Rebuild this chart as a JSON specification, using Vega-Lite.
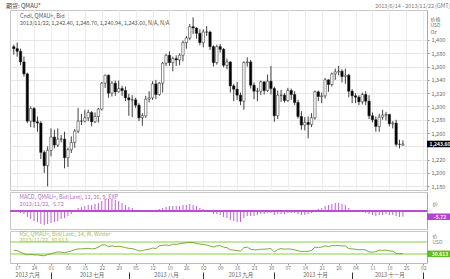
{
"$schema":"https://vega.github.io/schema/vega-lite/v6.json",
"padding":{"left":5,"top":2,"right":0,"bottom":0},
"background":"white",
"spacing":0,
"title":{"text":"期货: QMAU*","anchor":"start","fontSize":6,"fontWeight":"normal","color":"#444","baseline":"top","offset":-6.5,"dx":-3},
"config":{"font":"Noto Sans CJK SC","view":{"stroke":"#c8c8c8"},"axis":{"labelFont":"Noto Sans CJK SC","titleFont":"Noto Sans CJK SC","labelOverlap":false,"labelSeparation":0},"axisQuantitative":{"labelOverlap":false},"axisRight":{"labelOverlap":false}},
"datasets":{"g":[
{"d":"2013-06-14","o":1390,"h":1393,"l":1378,"c":1387,"m":-1,"r":43},
{"d":"2013-06-17","o":1387,"h":1396,"l":1375,"c":1383,"m":-1,"r":41},
{"d":"2013-06-18","o":1383,"h":1387,"l":1362,"c":1367,"m":-2,"r":36},
{"d":"2013-06-19","o":1367,"h":1375,"l":1345,"c":1349,"m":-3,"r":31},
{"d":"2013-06-20","o":1349,"h":1351,"l":1275,"c":1278,"m":-6,"r":27},
{"d":"2013-06-21","o":1278,"h":1300,"l":1269,"c":1297,"m":-8,"r":29},
{"d":"2013-06-24","o":1297,"h":1299,"l":1268,"c":1277,"m":-10,"r":27},
{"d":"2013-06-25","o":1277,"h":1285,"l":1262,"c":1275,"m":-11,"r":27},
{"d":"2013-06-26","o":1275,"h":1278,"l":1221,"c":1231,"m":-13,"r":25},
{"d":"2013-06-27","o":1231,"h":1234,"l":1200,"c":1211,"m":-14,"r":24},
{"d":"2013-06-28","o":1211,"h":1240,"l":1180,"c":1234,"m":-13,"r":28},
{"d":"2013-07-01","o":1234,"h":1267,"l":1225,"c":1254,"m":-12,"r":31},
{"d":"2013-07-02","o":1254,"h":1265,"l":1237,"c":1242,"m":-11,"r":34},
{"d":"2013-07-03","o":1242,"h":1267,"l":1239,"c":1251,"m":-10,"r":37},
{"d":"2013-07-04","o":1251,"h":1257,"l":1246,"c":1251,"m":-8,"r":36},
{"d":"2013-07-05","o":1251,"h":1262,"l":1207,"c":1223,"m":-7,"r":34},
{"d":"2013-07-08","o":1223,"h":1238,"l":1209,"c":1235,"m":-5,"r":37},
{"d":"2013-07-09","o":1235,"h":1255,"l":1230,"c":1246,"m":-3,"r":40},
{"d":"2013-07-10","o":1246,"h":1266,"l":1238,"c":1263,"m":1,"r":44},
{"d":"2013-07-11","o":1263,"h":1298,"l":1260,"c":1278,"m":3,"r":47},
{"d":"2013-07-12","o":1278,"h":1289,"l":1272,"c":1278,"m":4,"r":47},
{"d":"2013-07-15","o":1278,"h":1295,"l":1276,"c":1283,"m":5,"r":48},
{"d":"2013-07-16","o":1283,"h":1295,"l":1278,"c":1291,"m":6,"r":49},
{"d":"2013-07-17","o":1291,"h":1293,"l":1270,"c":1277,"m":6,"r":47},
{"d":"2013-07-18","o":1277,"h":1291,"l":1275,"c":1285,"m":7,"r":48},
{"d":"2013-07-19","o":1285,"h":1298,"l":1276,"c":1296,"m":8,"r":53},
{"d":"2013-07-22","o":1296,"h":1337,"l":1294,"c":1335,"m":10,"r":60},
{"d":"2013-07-23","o":1335,"h":1348,"l":1328,"c":1347,"m":12,"r":61},
{"d":"2013-07-24","o":1347,"h":1348,"l":1313,"c":1320,"m":12,"r":54},
{"d":"2013-07-25","o":1320,"h":1338,"l":1315,"c":1335,"m":12,"r":57},
{"d":"2013-07-26","o":1335,"h":1339,"l":1316,"c":1322,"m":11,"r":55},
{"d":"2013-07-29","o":1322,"h":1339,"l":1321,"c":1327,"m":10,"r":56},
{"d":"2013-07-30","o":1327,"h":1331,"l":1316,"c":1324,"m":8,"r":54},
{"d":"2013-07-31","o":1324,"h":1330,"l":1308,"c":1313,"m":6,"r":51},
{"d":"2013-08-01","o":1313,"h":1319,"l":1286,"c":1310,"m":4,"r":49},
{"d":"2013-08-02","o":1310,"h":1317,"l":1284,"c":1310,"m":3,"r":48},
{"d":"2013-08-05","o":1310,"h":1313,"l":1298,"c":1302,"m":1,"r":45},
{"d":"2013-08-06","o":1302,"h":1305,"l":1278,"c":1283,"m":-1,"r":40},
{"d":"2013-08-07","o":1283,"h":1290,"l":1271,"c":1286,"m":-1,"r":41},
{"d":"2013-08-08","o":1286,"h":1316,"l":1283,"c":1311,"m":0.3,"r":45},
{"d":"2013-08-09","o":1311,"h":1323,"l":1306,"c":1313,"m":0.3,"r":46},
{"d":"2013-08-12","o":1313,"h":1338,"l":1310,"c":1334,"m":1,"r":50},
{"d":"2013-08-13","o":1334,"h":1340,"l":1311,"c":1318,"m":1,"r":48},
{"d":"2013-08-14","o":1318,"h":1337,"l":1316,"c":1335,"m":2,"r":57},
{"d":"2013-08-15","o":1335,"h":1367,"l":1321,"c":1365,"m":3,"r":59},
{"d":"2013-08-16","o":1365,"h":1379,"l":1361,"c":1377,"m":4,"r":60},
{"d":"2013-08-19","o":1377,"h":1383,"l":1361,"c":1366,"m":5,"r":58},
{"d":"2013-08-20","o":1366,"h":1375,"l":1353,"c":1372,"m":5,"r":63},
{"d":"2013-08-21","o":1372,"h":1377,"l":1361,"c":1370,"m":5,"r":62},
{"d":"2013-08-22","o":1370,"h":1380,"l":1362,"c":1377,"m":5,"r":64},
{"d":"2013-08-23","o":1377,"h":1399,"l":1368,"c":1396,"m":6,"r":66},
{"d":"2013-08-26","o":1396,"h":1406,"l":1387,"c":1403,"m":6,"r":67},
{"d":"2013-08-27","o":1403,"h":1424,"l":1400,"c":1420,"m":7,"r":69},
{"d":"2013-08-28","o":1420,"h":1434,"l":1409,"c":1418,"m":6,"r":68},
{"d":"2013-08-29","o":1418,"h":1419,"l":1402,"c":1410,"m":5,"r":65},
{"d":"2013-08-30","o":1410,"h":1416,"l":1392,"c":1396,"m":3,"r":63},
{"d":"2013-09-02","o":1396,"h":1416,"l":1389,"c":1412,"m":2,"r":62},
{"d":"2013-09-03","o":1412,"h":1421,"l":1406,"c":1412,"m":1,"r":60},
{"d":"2013-09-04","o":1412,"h":1414,"l":1385,"c":1390,"m":-1,"r":57},
{"d":"2013-09-05","o":1390,"h":1392,"l":1360,"c":1366,"m":-3,"r":53},
{"d":"2013-09-06","o":1366,"h":1393,"l":1363,"c":1390,"m":-3,"r":57},
{"d":"2013-09-09","o":1390,"h":1394,"l":1381,"c":1386,"m":-4,"r":58},
{"d":"2013-09-10","o":1386,"h":1388,"l":1359,"c":1362,"m":-6,"r":53},
{"d":"2013-09-11","o":1362,"h":1372,"l":1356,"c":1367,"m":-7,"r":51},
{"d":"2013-09-12","o":1367,"h":1368,"l":1321,"c":1331,"m":-9,"r":44},
{"d":"2013-09-13","o":1331,"h":1334,"l":1308,"c":1326,"m":-10,"r":43},
{"d":"2013-09-16","o":1326,"h":1337,"l":1310,"c":1317,"m":-11,"r":41},
{"d":"2013-09-17","o":1317,"h":1321,"l":1302,"c":1308,"m":-11,"r":40},
{"d":"2013-09-18","o":1308,"h":1368,"l":1295,"c":1366,"m":-7,"r":51},
{"d":"2013-09-19","o":1366,"h":1374,"l":1360,"c":1367,"m":-5,"r":53},
{"d":"2013-09-20","o":1367,"h":1370,"l":1327,"c":1332,"m":-5,"r":46},
{"d":"2013-09-23","o":1332,"h":1336,"l":1311,"c":1323,"m":-5,"r":44},
{"d":"2013-09-24","o":1323,"h":1328,"l":1308,"c":1323,"m":-4,"r":44},
{"d":"2013-09-25","o":1323,"h":1339,"l":1317,"c":1337,"m":-3,"r":46},
{"d":"2013-09-26","o":1337,"h":1338,"l":1318,"c":1324,"m":-3,"r":46},
{"d":"2013-09-27","o":1324,"h":1348,"l":1322,"c":1338,"m":-2,"r":47},
{"d":"2013-09-30","o":1338,"h":1361,"l":1318,"c":1327,"m":-2,"r":48},
{"d":"2013-10-01","o":1327,"h":1330,"l":1277,"c":1286,"m":-4,"r":37},
{"d":"2013-10-02","o":1286,"h":1324,"l":1281,"c":1317,"m":-3,"r":45},
{"d":"2013-10-03","o":1317,"h":1325,"l":1307,"c":1317,"m":-3,"r":48},
{"d":"2013-10-04","o":1317,"h":1320,"l":1306,"c":1309,"m":-3,"r":46},
{"d":"2013-10-07","o":1309,"h":1328,"l":1307,"c":1324,"m":-2,"r":47},
{"d":"2013-10-08","o":1324,"h":1327,"l":1310,"c":1318,"m":-2,"r":46},
{"d":"2013-10-09","o":1318,"h":1323,"l":1302,"c":1306,"m":-2,"r":44},
{"d":"2013-10-10","o":1306,"h":1310,"l":1282,"c":1285,"m":-3,"r":41},
{"d":"2013-10-11","o":1285,"h":1293,"l":1265,"c":1272,"m":-4,"r":38},
{"d":"2013-10-14","o":1272,"h":1284,"l":1264,"c":1276,"m":-4,"r":39},
{"d":"2013-10-15","o":1276,"h":1285,"l":1252,"c":1273,"m":-3,"r":39},
{"d":"2013-10-16","o":1273,"h":1290,"l":1269,"c":1283,"m":-2,"r":42},
{"d":"2013-10-17","o":1283,"h":1324,"l":1280,"c":1322,"m":1,"r":53},
{"d":"2013-10-18","o":1322,"h":1324,"l":1308,"c":1315,"m":2,"r":52},
{"d":"2013-10-21","o":1315,"h":1321,"l":1305,"c":1316,"m":3,"r":53},
{"d":"2013-10-22","o":1316,"h":1343,"l":1312,"c":1340,"m":5,"r":57},
{"d":"2013-10-23","o":1340,"h":1341,"l":1322,"c":1333,"m":6,"r":55},
{"d":"2013-10-24","o":1333,"h":1351,"l":1330,"c":1349,"m":7,"r":58},
{"d":"2013-10-25","o":1349,"h":1357,"l":1340,"c":1352,"m":8,"r":58},
{"d":"2013-10-28","o":1352,"h":1361,"l":1347,"c":1353,"m":8,"r":58},
{"d":"2013-10-29","o":1353,"h":1356,"l":1336,"c":1345,"m":7,"r":57},
{"d":"2013-10-30","o":1345,"h":1357,"l":1334,"c":1347,"m":6,"r":57},
{"d":"2013-10-31","o":1347,"h":1349,"l":1314,"c":1323,"m":3,"r":48},
{"d":"2013-11-01","o":1323,"h":1326,"l":1305,"c":1316,"m":1,"r":47},
{"d":"2013-11-04","o":1316,"h":1320,"l":1305,"c":1314,"m":0,"r":46},
{"d":"2013-11-05","o":1314,"h":1317,"l":1302,"c":1307,"m":-1,"r":44},
{"d":"2013-11-06","o":1307,"h":1321,"l":1303,"c":1318,"m":-1,"r":45},
{"d":"2013-11-07","o":1318,"h":1323,"l":1302,"c":1308,"m":-2,"r":43},
{"d":"2013-11-08","o":1308,"h":1317,"l":1281,"c":1286,"m":-3,"r":37},
{"d":"2013-11-11","o":1286,"h":1291,"l":1276,"c":1280,"m":-4,"r":36},
{"d":"2013-11-12","o":1280,"h":1285,"l":1262,"c":1270,"m":-5,"r":38},
{"d":"2013-11-13","o":1270,"h":1289,"l":1262,"c":1284,"m":-4,"r":43},
{"d":"2013-11-14","o":1284,"h":1295,"l":1280,"c":1287,"m":-4,"r":42},
{"d":"2013-11-15","o":1287,"h":1292,"l":1279,"c":1288,"m":-3,"r":43},
{"d":"2013-11-18","o":1288,"h":1289,"l":1270,"c":1274,"m":-4,"r":40},
{"d":"2013-11-19","o":1274,"h":1278,"l":1267,"c":1275,"m":-4,"r":40},
{"d":"2013-11-20","o":1275,"h":1280,"l":1240,"c":1243,"m":-5,"r":32},
{"d":"2013-11-21","o":1243,"h":1250,"l":1237,"c":1243,"m":-6,"r":31},
{"d":"2013-11-22","o":1242,"h":1249,"l":1241,"c":1243.6,"m":-5.7,"r":30.6}
]},
"vconcat":[
{
"width":417,"height":180,
"data":{"name":"g"},
"title":{"text":["Cndl, QMAU=, Bid","2013/11/22, 1,242.40, 1,248.70, 1,240.94, 1,243.60, N/A, N/A"],"anchor":"start","fontSize":5.5,"fontWeight":"normal","color":"#555","baseline":"top","lineHeight":6.5,"offset":-23,"dx":10},
"encoding":{"x":{"field":"d","type":"ordinal","scale":{"type":"point","padding":0.12,"domain":["2013-06-13","2013-06-14","2013-06-17","2013-06-18","2013-06-19","2013-06-20","2013-06-21","2013-06-24","2013-06-25","2013-06-26","2013-06-27","2013-06-28","2013-07-01","2013-07-02","2013-07-03","2013-07-04","2013-07-05","2013-07-08","2013-07-09","2013-07-10","2013-07-11","2013-07-12","2013-07-15","2013-07-16","2013-07-17","2013-07-18","2013-07-19","2013-07-22","2013-07-23","2013-07-24","2013-07-25","2013-07-26","2013-07-29","2013-07-30","2013-07-31","2013-08-01","2013-08-02","2013-08-05","2013-08-06","2013-08-07","2013-08-08","2013-08-09","2013-08-12","2013-08-13","2013-08-14","2013-08-15","2013-08-16","2013-08-19","2013-08-20","2013-08-21","2013-08-22","2013-08-23","2013-08-26","2013-08-27","2013-08-28","2013-08-29","2013-08-30","2013-09-02","2013-09-03","2013-09-04","2013-09-05","2013-09-06","2013-09-09","2013-09-10","2013-09-11","2013-09-12","2013-09-13","2013-09-16","2013-09-17","2013-09-18","2013-09-19","2013-09-20","2013-09-23","2013-09-24","2013-09-25","2013-09-26","2013-09-27","2013-09-30","2013-10-01","2013-10-02","2013-10-03","2013-10-04","2013-10-07","2013-10-08","2013-10-09","2013-10-10","2013-10-11","2013-10-14","2013-10-15","2013-10-16","2013-10-17","2013-10-18","2013-10-21","2013-10-22","2013-10-23","2013-10-24","2013-10-25","2013-10-28","2013-10-29","2013-10-30","2013-10-31","2013-11-01","2013-11-04","2013-11-05","2013-11-06","2013-11-07","2013-11-08","2013-11-11","2013-11-12","2013-11-13","2013-11-14","2013-11-15","2013-11-18","2013-11-19","2013-11-20","2013-11-21","2013-11-22","2013-11-25","2013-11-26","2013-11-27","2013-11-28","2013-11-29","2013-12-02","2013-12-03"]},
"axis":{"orient":"top","labels":false,"ticks":false,"domain":false,"grid":true,"gridColor":"#ededed","values":["2013-06-17","2013-06-24","2013-07-01","2013-07-08","2013-07-15","2013-07-22","2013-07-29","2013-08-05","2013-08-12","2013-08-19","2013-08-26","2013-09-02","2013-09-09","2013-09-16","2013-09-23","2013-09-30","2013-10-07","2013-10-14","2013-10-21","2013-10-28","2013-11-04","2013-11-11","2013-11-18","2013-11-25","2013-12-02"],"title":"2013/6/14 - 2013/11/22 (GMT)","titleFontSize":5.5,"titleFontWeight":"normal","titleColor":"#777","titleAlign":"right","titleAnchor":"end","titleX":440,"titleY":-5,"titleBaseline":"middle"}}},
"layer":[
{"mark":{"type":"rule","color":"#111","strokeWidth":0.8},
 "encoding":{"y":{"field":"l","type":"quantitative","scale":{"domain":[1174.4,1445.1],"nice":false,"zero":false},
   "axis":{"orient":"right","values":[1180,1200,1220,1240,1260,1280,1300,1320,1340,1360,1380,1400],"format":",.0f","labelOverlap":false,"labelOpacity":{"condition":{"test":"datum.value == 1240","value":0},"value":1},"grid":true,"gridColor":"#e6e6e6","labelFontSize":5.5,"labelColor":"#666","tickSize":2,"tickColor":"#999","domainColor":"#aaa","labelPadding":2,"title":["价格","USD","Oz"],"titleAngle":0,"titleAlign":"left","titleBaseline":"top","titleX":3,"titleY":6,"titleFontSize":5,"titleFontWeight":"normal","titleColor":"#666","titleLineHeight":6.5}},
  "y2":{"field":"h"}}},
{"mark":{"type":"bar","width":2.4,"stroke":"#222","strokeWidth":0.5},
 "encoding":{"y":{"field":"o","type":"quantitative","axis":{"orient":"right","values":[1180,1200,1220,1240,1260,1280,1300,1320,1340,1360,1380,1400],"format":",.0f","labelOverlap":false,"labelOpacity":{"condition":{"test":"datum.value == 1240","value":0},"value":1},"grid":true,"gridColor":"#e6e6e6","labelFontSize":5.5,"labelColor":"#666","tickSize":2,"tickColor":"#999","domainColor":"#aaa","labelPadding":2,"title":["价格","USD","Oz"],"titleAngle":0,"titleAlign":"left","titleBaseline":"top","titleX":3,"titleY":6,"titleFontSize":5,"titleFontWeight":"normal","titleColor":"#666","titleLineHeight":6.5}},"y2":{"field":"c"},"color":{"condition":{"test":"datum.c < datum.o","value":"#000"},"value":"#fff"}}},
{"data":{"values":[{"v":1243.6,"t":"1,243.60"}]},
 "mark":{"type":"point","shape":"M-1,-0.25L1,-0.25L1,0.25L-1,0.25Z","size":676,"filled":true,"color":"#000","opacity":1,"xOffset":13},
 "encoding":{"x":{"value":"width"},"y":{"field":"v","type":"quantitative","axis":{"orient":"right","values":[1180,1200,1220,1240,1260,1280,1300,1320,1340,1360,1380,1400],"format":",.0f","labelOverlap":false,"labelOpacity":{"condition":{"test":"datum.value == 1240","value":0},"value":1},"grid":true,"gridColor":"#e6e6e6","labelFontSize":5.5,"labelColor":"#666","tickSize":2,"tickColor":"#999","domainColor":"#aaa","labelPadding":2,"title":["价格","USD","Oz"],"titleAngle":0,"titleAlign":"left","titleBaseline":"top","titleX":3,"titleY":6,"titleFontSize":5,"titleFontWeight":"normal","titleColor":"#666","titleLineHeight":6.5}}}},
{"data":{"values":[{"v":1243.6,"t":"1,243.60"}]},
 "mark":{"type":"text","xOffset":13,"align":"center","baseline":"middle","color":"#fff","fontSize":5,"fontWeight":"bold"},
 "encoding":{"x":{"value":"width"},"y":{"field":"v","type":"quantitative","axis":{"orient":"right","values":[1180,1200,1220,1240,1260,1280,1300,1320,1340,1360,1380,1400],"format":",.0f","labelOverlap":false,"labelOpacity":{"condition":{"test":"datum.value == 1240","value":0},"value":1},"grid":true,"gridColor":"#e6e6e6","labelFontSize":5.5,"labelColor":"#666","tickSize":2,"tickColor":"#999","domainColor":"#aaa","labelPadding":2,"title":["价格","USD","Oz"],"titleAngle":0,"titleAlign":"left","titleBaseline":"top","titleX":3,"titleY":6,"titleFontSize":5,"titleFontWeight":"normal","titleColor":"#666","titleLineHeight":6.5}},"text":{"field":"t"}}}
]
},
{
"width":417,"height":37,
"data":{"name":"g"},
"title":{"text":["MACD, QMAU=, Bid(Last), 12, 26, 9, EXP","2013/11/22, -5.72"],"anchor":"start","fontSize":5.5,"fontWeight":"normal","color":"#b36bc4","baseline":"top","lineHeight":6.5,"offset":-15,"dx":10},
"layer":[
{"mark":{"type":"rule","color":"#b84fd0","strokeWidth":0.9},
 "encoding":{"x":{"field":"d","type":"ordinal","scale":{"type":"point","padding":0.12,"domain":["2013-06-13","2013-06-14","2013-06-17","2013-06-18","2013-06-19","2013-06-20","2013-06-21","2013-06-24","2013-06-25","2013-06-26","2013-06-27","2013-06-28","2013-07-01","2013-07-02","2013-07-03","2013-07-04","2013-07-05","2013-07-08","2013-07-09","2013-07-10","2013-07-11","2013-07-12","2013-07-15","2013-07-16","2013-07-17","2013-07-18","2013-07-19","2013-07-22","2013-07-23","2013-07-24","2013-07-25","2013-07-26","2013-07-29","2013-07-30","2013-07-31","2013-08-01","2013-08-02","2013-08-05","2013-08-06","2013-08-07","2013-08-08","2013-08-09","2013-08-12","2013-08-13","2013-08-14","2013-08-15","2013-08-16","2013-08-19","2013-08-20","2013-08-21","2013-08-22","2013-08-23","2013-08-26","2013-08-27","2013-08-28","2013-08-29","2013-08-30","2013-09-02","2013-09-03","2013-09-04","2013-09-05","2013-09-06","2013-09-09","2013-09-10","2013-09-11","2013-09-12","2013-09-13","2013-09-16","2013-09-17","2013-09-18","2013-09-19","2013-09-20","2013-09-23","2013-09-24","2013-09-25","2013-09-26","2013-09-27","2013-09-30","2013-10-01","2013-10-02","2013-10-03","2013-10-04","2013-10-07","2013-10-08","2013-10-09","2013-10-10","2013-10-11","2013-10-14","2013-10-15","2013-10-16","2013-10-17","2013-10-18","2013-10-21","2013-10-22","2013-10-23","2013-10-24","2013-10-25","2013-10-28","2013-10-29","2013-10-30","2013-10-31","2013-11-01","2013-11-04","2013-11-05","2013-11-06","2013-11-07","2013-11-08","2013-11-11","2013-11-12","2013-11-13","2013-11-14","2013-11-15","2013-11-18","2013-11-19","2013-11-20","2013-11-21","2013-11-22","2013-11-25","2013-11-26","2013-11-27","2013-11-28","2013-11-29","2013-12-02","2013-12-03"]},"axis":null},
  "y":{"field":"m","type":"quantitative","scale":{"domain":[-18,19],"nice":false,"zero":false},"axis":{"orient":"right","labels":false,"ticks":false,"grid":false,"domainColor":"#aaa","title":"价","titleAngle":0,"titleAlign":"left","titleBaseline":"top","titleX":5,"titleY":9,"titleFontSize":5.5,"titleFontWeight":"normal","titleColor":"#777"}},
  "y2":{"datum":0}}},
{"mark":{"type":"rule","color":"#b84fd0","strokeWidth":0.8},"encoding":{"y":{"datum":0}}},
{"data":{"values":[{"v":-5.72,"t":"-5.72"}]},
 "mark":{"type":"point","shape":"M-1,-0.25L1,-0.25L1,0.25L-1,0.25Z","size":676,"filled":true,"color":"#b83fd8","opacity":1,"xOffset":13},
 "encoding":{"x":{"value":"width"},"y":{"field":"v","type":"quantitative"}}},
{"data":{"values":[{"v":-5.72,"t":"-5.72"}]},
 "mark":{"type":"text","xOffset":13,"align":"center","baseline":"middle","color":"#fff","fontSize":5,"fontWeight":"bold"},
 "encoding":{"x":{"value":"width"},"y":{"field":"v","type":"quantitative"},"text":{"field":"t"}}}
]
},
{
"width":417,"height":32,
"data":{"name":"g"},
"title":{"text":["RSI, QMAU=, Bid(Last), 14, W, Wilder","2013/11/22, 30.613"],"anchor":"start","fontSize":5.5,"fontWeight":"normal","color":"#9cc05a","baseline":"top","lineHeight":6.5,"offset":-12.5,"dx":10},
"resolve":{"axis":{"x":"independent"}},
"layer":[
{"data":{"values":[{"v":70},{"v":30}]},
 "mark":{"type":"rule","color":"#86d040","strokeWidth":1.2},
 "encoding":{"y":{"field":"v","type":"quantitative"}}},
{"mark":{"type":"line","color":"#6f9f1f","strokeWidth":0.9},
 "encoding":{"x":{"field":"d","type":"ordinal","scale":{"type":"point","padding":0.12,"domain":["2013-06-13","2013-06-14","2013-06-17","2013-06-18","2013-06-19","2013-06-20","2013-06-21","2013-06-24","2013-06-25","2013-06-26","2013-06-27","2013-06-28","2013-07-01","2013-07-02","2013-07-03","2013-07-04","2013-07-05","2013-07-08","2013-07-09","2013-07-10","2013-07-11","2013-07-12","2013-07-15","2013-07-16","2013-07-17","2013-07-18","2013-07-19","2013-07-22","2013-07-23","2013-07-24","2013-07-25","2013-07-26","2013-07-29","2013-07-30","2013-07-31","2013-08-01","2013-08-02","2013-08-05","2013-08-06","2013-08-07","2013-08-08","2013-08-09","2013-08-12","2013-08-13","2013-08-14","2013-08-15","2013-08-16","2013-08-19","2013-08-20","2013-08-21","2013-08-22","2013-08-23","2013-08-26","2013-08-27","2013-08-28","2013-08-29","2013-08-30","2013-09-02","2013-09-03","2013-09-04","2013-09-05","2013-09-06","2013-09-09","2013-09-10","2013-09-11","2013-09-12","2013-09-13","2013-09-16","2013-09-17","2013-09-18","2013-09-19","2013-09-20","2013-09-23","2013-09-24","2013-09-25","2013-09-26","2013-09-27","2013-09-30","2013-10-01","2013-10-02","2013-10-03","2013-10-04","2013-10-07","2013-10-08","2013-10-09","2013-10-10","2013-10-11","2013-10-14","2013-10-15","2013-10-16","2013-10-17","2013-10-18","2013-10-21","2013-10-22","2013-10-23","2013-10-24","2013-10-25","2013-10-28","2013-10-29","2013-10-30","2013-10-31","2013-11-01","2013-11-04","2013-11-05","2013-11-06","2013-11-07","2013-11-08","2013-11-11","2013-11-12","2013-11-13","2013-11-14","2013-11-15","2013-11-18","2013-11-19","2013-11-20","2013-11-21","2013-11-22","2013-11-25","2013-11-26","2013-11-27","2013-11-28","2013-11-29","2013-12-02","2013-12-03"]},
   "axis":{"orient":"bottom","values":["2013-06-17","2013-06-24","2013-07-01","2013-07-08","2013-07-15","2013-07-22","2013-07-29","2013-08-05","2013-08-12","2013-08-19","2013-08-26","2013-09-02","2013-09-09","2013-09-16","2013-09-23","2013-09-30","2013-10-07","2013-10-14","2013-10-21","2013-10-28","2013-11-04","2013-11-11","2013-11-18","2013-11-25","2013-12-02"],"labelExpr":"slice(datum.value,8,10)","labelAngle":0,"labelFontSize":5,"labelColor":"#777","tickSize":2,"tickColor":"#999","domainColor":"#bbb","labelPadding":0,"labelOverlap":false,"grid":false,"title":null}},
  "y":{"field":"r","type":"quantitative","scale":{"domain":[0,106.7],"nice":false,"zero":false},"axis":{"orient":"right","labels":false,"ticks":false,"grid":false,"domainColor":"#aaa","title":["价","USD"],"titleAngle":0,"titleAlign":"left","titleBaseline":"top","titleX":5,"titleY":2,"titleFontSize":5,"titleFontWeight":"normal","titleColor":"#777","titleLineHeight":6.5}}}},
{"mark":{"type":"rule","strokeOpacity":0},
 "encoding":{"x":{"field":"d","type":"ordinal",
   "axis":{"orient":"bottom","offset":9,"values":["2013-06-20","2013-07-01","2013-07-17","2013-08-01","2013-08-16","2013-09-02","2013-09-17","2013-10-01","2013-10-17","2013-11-01","2013-11-18","2013-12-02"],"labelExpr":"datum.value=='2013-06-20'?'2013 六月':datum.value=='2013-07-17'?'2013 七月':datum.value=='2013-08-16'?'2013 八月':datum.value=='2013-09-17'?'2013 九月':datum.value=='2013-10-17'?'2013 十月':datum.value=='2013-11-18'?'2013 十一月':''","labelAngle":0,"labelFontSize":5.5,"labelColor":"#666","domain":false,"tickSize":8,"tickColor":"#333","tickOpacity":{"condition":{"test":"indexof(['2013-07-01','2013-08-01','2013-09-02','2013-10-01','2013-11-01','2013-12-02'], datum.value) >= 0","value":1},"value":0},"labelPadding":-8,"labelOverlap":false,"grid":false,"title":null}}}},
{"data":{"values":[{"v":30.6,"t":"30.613"}]},
 "mark":{"type":"point","shape":"M-1,-0.25L1,-0.25L1,0.25L-1,0.25Z","size":676,"filled":true,"color":"#5cbf1a","opacity":1,"xOffset":13},
 "encoding":{"x":{"value":"width"},"y":{"field":"v","type":"quantitative"}}},
{"data":{"values":[{"v":30.6,"t":"30.613"}]},
 "mark":{"type":"text","xOffset":13,"align":"center","baseline":"middle","color":"#fff","fontSize":5,"fontWeight":"bold"},
 "encoding":{"x":{"value":"width"},"y":{"field":"v","type":"quantitative"},"text":{"field":"t"}}}
]
}
]
}
